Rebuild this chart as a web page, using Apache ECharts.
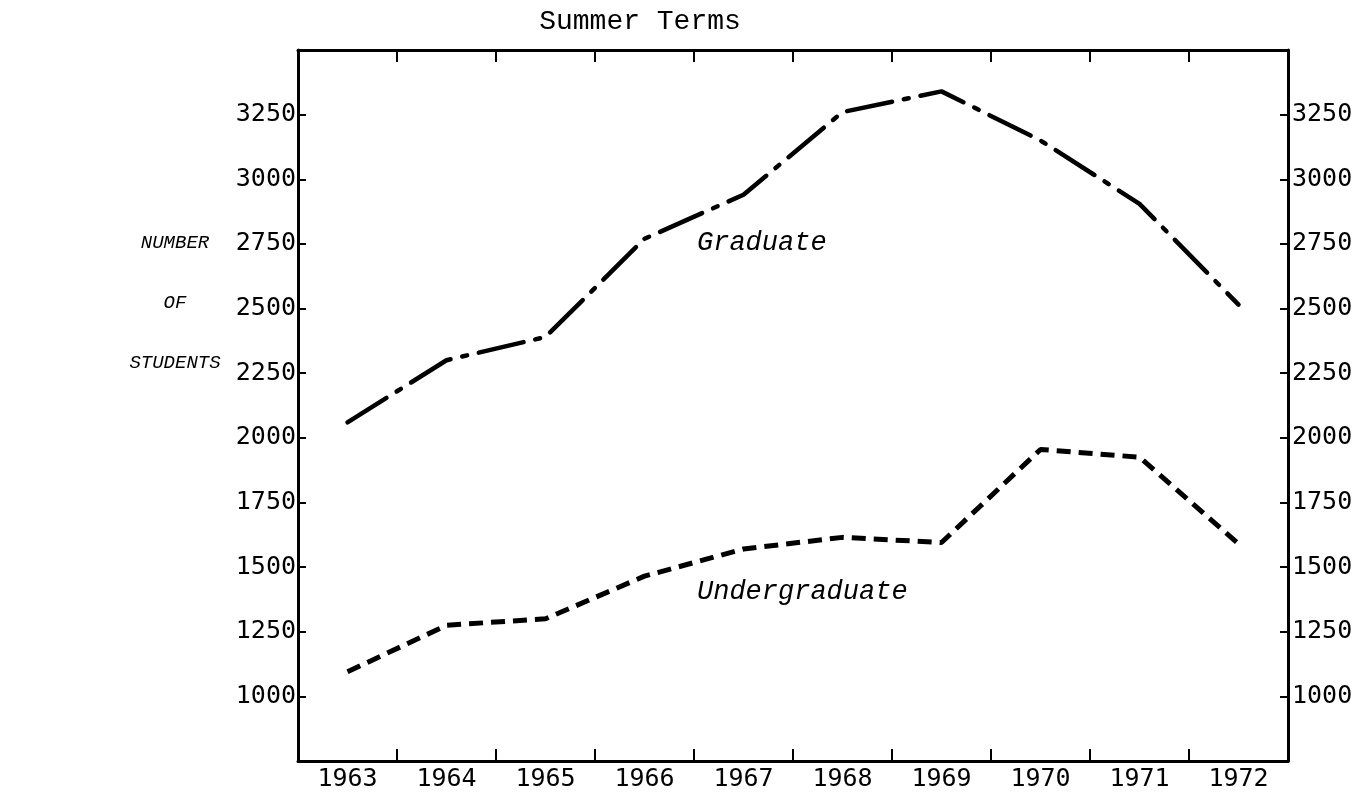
<!DOCTYPE html>
<html>
<head>
<meta charset="utf-8">
<title>Summer Terms</title>
<script src="https://cdn.jsdelivr.net/npm/echarts@6/dist/echarts.min.js"></script>
<style>
  html, body { margin: 0; padding: 0; background: #fff; }
  #chart { width: 1360px; height: 792px; }
</style>
</head>
<body>
<div id="chart"></div>
<script>
// data
var years = ['1963', '1964', '1965', '1966', '1967', '1968', '1969', '1970', '1971', '1972'];
var graduate = [2060, 2300, 2390, 2770, 2940, 3260, 3340, 3150, 2905, 2515];
var undergraduate = [1095, 1275, 1300, 1465, 1570, 1615, 1595, 1955, 1925, 1590];
var yMin = 750, yMax = 3500, yStep = 250;

var numFont = 'DejaVu Sans Mono';
var txtFont = 'Liberation Mono';

function yLabel (v) {
  // the box edges carry no number
  if (v <= yMin || v >= yMax) return '';
  return String(v);
}

var boxLine = { show: true, onZero: false, lineStyle: { color: '#000', width: 3 } };

var option = {
  backgroundColor: '#fff',
  animation: false,
  grid: { left: 298, right: 72, top: 50, bottom: 29 },
  xAxis: [
    {
      type: 'category',
      position: 'bottom',
      data: years,
      boundaryGap: true,
      axisLine: boxLine,
      axisTick: { show: true, inside: true, length: 12, lineStyle: { color: '#000', width: 2 } },
      axisLabel: { fontFamily: numFont, fontSize: 25, color: '#000', margin: 6 },
      splitLine: { show: false }
    },
    {
      type: 'category',
      position: 'top',
      data: years,
      boundaryGap: true,
      axisLine: boxLine,
      axisTick: { show: true, inside: true, length: 12, lineStyle: { color: '#000', width: 2 } },
      axisLabel: { show: false },
      splitLine: { show: false }
    }
  ],
  yAxis: [
    {
      type: 'value',
      position: 'left',
      min: yMin,
      max: yMax,
      interval: yStep,
      axisLine: boxLine,
      axisTick: { show: true, inside: true, length: 8, lineStyle: { color: '#000', width: 2 } },
      axisLabel: { formatter: yLabel, fontFamily: numFont, fontSize: 25, color: '#000', margin: 2 },
      splitLine: { show: false }
    },
    {
      type: 'value',
      position: 'right',
      min: yMin,
      max: yMax,
      interval: yStep,
      axisLine: boxLine,
      axisTick: { show: true, inside: true, length: 8, lineStyle: { color: '#000', width: 2 } },
      axisLabel: { formatter: yLabel, fontFamily: numFont, fontSize: 25, color: '#000', margin: 4 },
      splitLine: { show: false }
    }
  ],
  series: [
    {
      name: 'Graduate',
      type: 'line',
      data: graduate,
      symbol: 'none',
      lineStyle: { color: '#000', width: 4.5, type: [46, 12, 5, 12], cap: 'round' }
    },
    {
      name: 'Undergraduate',
      type: 'line',
      data: undergraduate,
      symbol: 'none',
      lineStyle: { color: '#000', width: 5, type: [14, 8], cap: 'butt' }
    }
  ],
  graphic: [
    { type: 'text', x: 640, y: 22, style: { text: 'Summer Terms', font: '28px "Liberation Mono"', fill: '#000', align: 'center', verticalAlign: 'middle' } },
    { type: 'text', left: 697, top: 229, style: { text: 'Graduate', font: 'italic 27px "Liberation Mono"', fill: '#000' } },
    { type: 'text', left: 697, top: 578, style: { text: 'Undergraduate', font: 'italic 27px "Liberation Mono"', fill: '#000' } },
    { type: 'text', x: 175, y: 243, style: { text: 'NUMBER', font: 'italic 19px "Liberation Mono"', fill: '#000', align: 'center', verticalAlign: 'middle' } },
    { type: 'text', x: 175, y: 303, style: { text: 'OF', font: 'italic 19px "Liberation Mono"', fill: '#000', align: 'center', verticalAlign: 'middle' } },
    { type: 'text', x: 175, y: 363, style: { text: 'STUDENTS', font: 'italic 19px "Liberation Mono"', fill: '#000', align: 'center', verticalAlign: 'middle' } }
  ]
};

var myChart = echarts.init(document.getElementById('chart'));
myChart.setOption(option);
</script>
</body>
</html>
